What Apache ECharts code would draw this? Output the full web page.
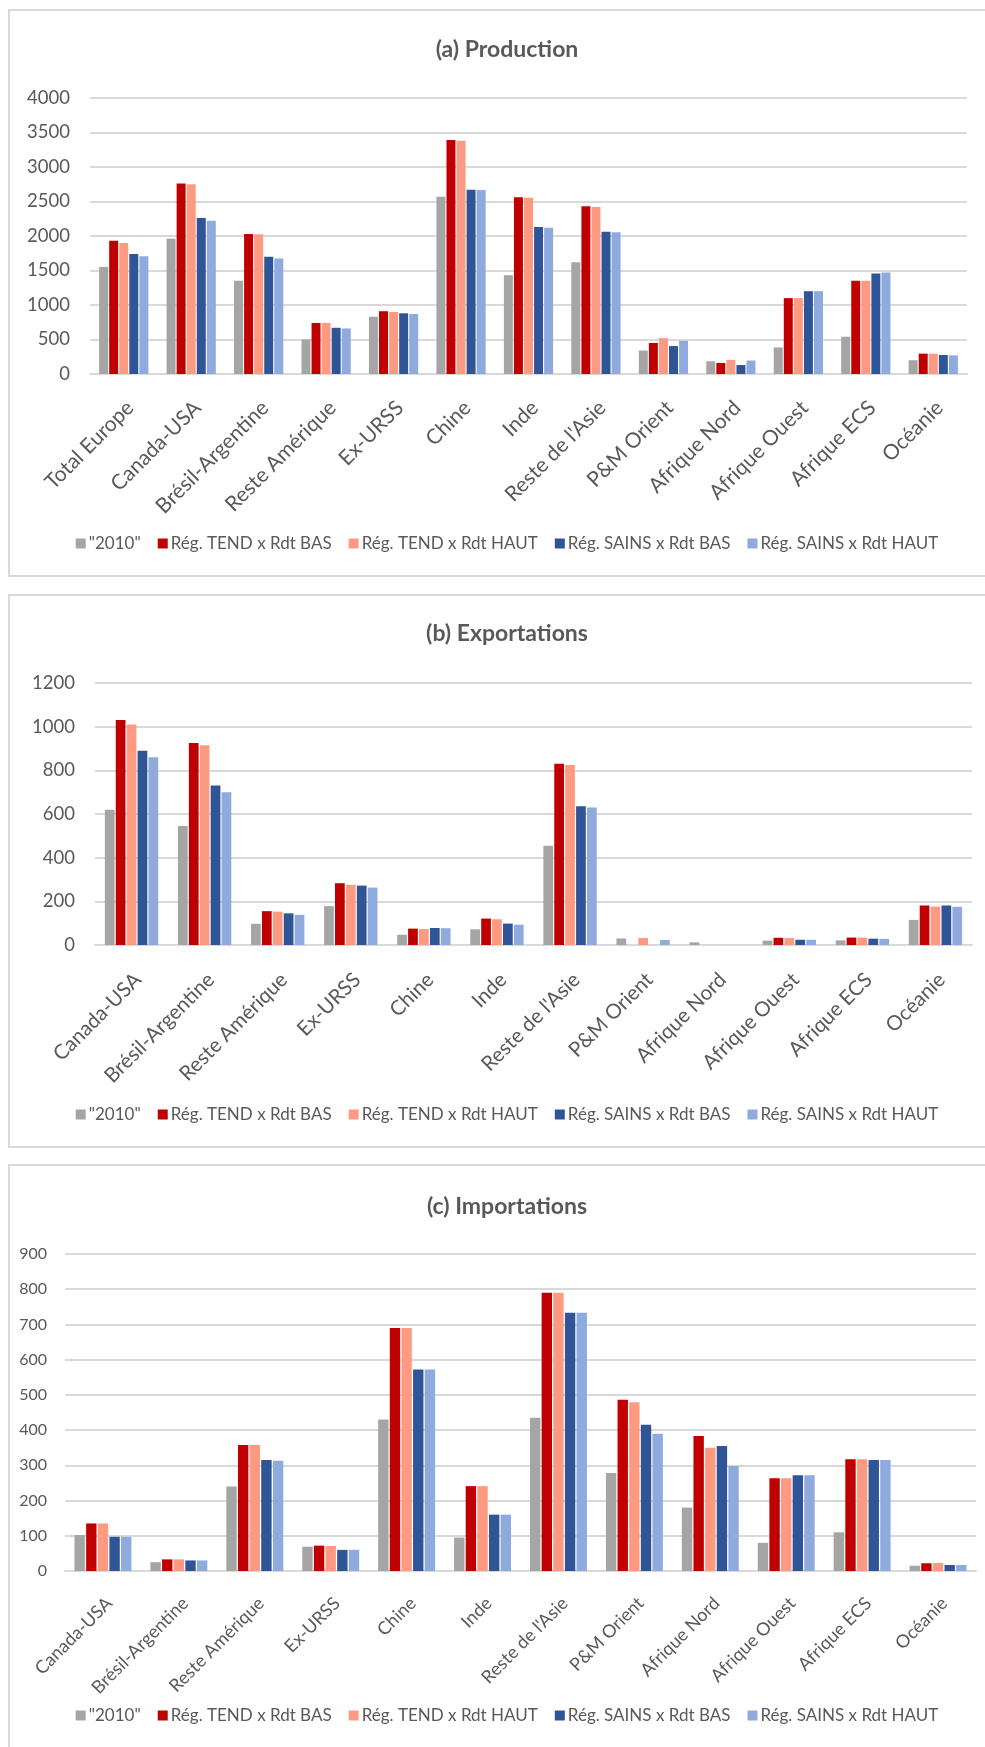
<!DOCTYPE html>
<html>
<head>
<meta charset="utf-8">
<script src="https://cdn.jsdelivr.net/npm/echarts@6/dist/echarts.min.js"></script>
<style>
  html, body { margin: 0; padding: 0; background: #fff; width: 985px; height: 1747px; overflow: hidden; }
  .panel { position: absolute; left: 8px; width: 994px; border: 2px solid #d9d9d9; background: #fff; }
</style>
</head>
<body>
<div class="panel" id="pa" style="top:9px;height:564px"></div>
<div class="panel" id="pb" style="top:594px;height:550px"></div>
<div class="panel" id="pc" style="top:1164px;height:600px"></div>
<script>
var seriesNames = ['"2010"', 'Rég. TEND x Rdt BAS', 'Rég. TEND x Rdt HAUT', 'Rég. SAINS x Rdt BAS', 'Rég. SAINS x Rdt HAUT'];
var colors = ['#a5a5a5', '#c00000', '#ff9a82', '#2f5597', '#8faadc'];

// (a) Production
var prodCats = ['Total Europe', 'Canada-USA', 'Brésil-Argentine', 'Reste Amérique', 'Ex-URSS', 'Chine', 'Inde', "Reste de l'Asie", 'P&M Orient', 'Afrique Nord', 'Afrique Ouest', 'Afrique ECS', 'Océanie'];
var prod2010 = [1550, 1960, 1350, 500, 830, 2570, 1430, 1620, 340, 185, 385, 540, 200];
var prodTendBas = [1930, 2760, 2030, 740, 910, 3390, 2560, 2430, 450, 160, 1100, 1350, 295];
var prodTendHaut = [1900, 2750, 2025, 740, 900, 3380, 2555, 2420, 520, 205, 1100, 1350, 295];
var prodSainsBas = [1740, 2260, 1700, 670, 880, 2670, 2130, 2060, 405, 130, 1200, 1455, 275];
var prodSainsHaut = [1705, 2220, 1675, 660, 870, 2665, 2120, 2055, 480, 195, 1200, 1470, 270];

// (b) Exportations
var expCats = ['Canada-USA', 'Brésil-Argentine', 'Reste Amérique', 'Ex-URSS', 'Chine', 'Inde', "Reste de l'Asie", 'P&M Orient', 'Afrique Nord', 'Afrique Ouest', 'Afrique ECS', 'Océanie'];
var exp2010 = [620, 545, 97, 178, 47, 72, 455, 30, 12, 20, 21, 115];
var expTendBas = [1030, 925, 155, 283, 75, 121, 830, 0, 0, 33, 34, 181];
var expTendHaut = [1010, 915, 153, 276, 73, 118, 825, 32, 0, 32, 34, 176];
var expSainsBas = [890, 730, 145, 272, 78, 98, 635, 0, 0, 24, 29, 181];
var expSainsHaut = [860, 700, 138, 263, 77, 93, 630, 23, 0, 24, 28, 175];

// (c) Importations
var impCats = ['Canada-USA', 'Brésil-Argentine', 'Reste Amérique', 'Ex-URSS', 'Chine', 'Inde', "Reste de l'Asie", 'P&M Orient', 'Afrique Nord', 'Afrique Ouest', 'Afrique ECS', 'Océanie'];
var imp2010 = [102, 25, 240, 69, 430, 95, 435, 278, 180, 80, 110, 15];
var impTendBas = [135, 33, 358, 72, 690, 241, 790, 486, 383, 263, 317, 22];
var impTendHaut = [135, 33, 358, 71, 690, 241, 790, 479, 350, 263, 317, 23];
var impSainsBas = [97, 30, 315, 60, 572, 160, 733, 415, 355, 272, 315, 17];
var impSainsHaut = [97, 30, 313, 60, 572, 160, 733, 390, 298, 272, 315, 17];

var FONT = 'Lato, "Open Sans", sans-serif';

function buildOption(cfg) {
  var dataSets = cfg.data;
  return {
    animation: false,
    color: colors,
    title: {
      text: cfg.title, left: 'center', top: cfg.titleTop,
      textStyle: { fontFamily: FONT, fontSize: 23, fontWeight: 'bold', color: '#595959' }
    },
    legend: {
      data: seriesNames, left: 'center', top: cfg.legendTop,
      icon: 'rect', itemWidth: 10, itemHeight: 10, itemGap: 17,
      textStyle: { fontFamily: FONT, fontSize: 17, color: '#595959', padding: [0, 0, 0, -2] }
    },
    grid: { left: cfg.grid[0], top: cfg.grid[1], right: cfg.grid[2], height: cfg.grid[3] },
    xAxis: {
      type: 'category', data: cfg.cats,
      axisLine: { lineStyle: { color: '#d9d9d9', width: 2 } },
      axisTick: { show: false },
      axisLabel: {
        rotate: 45, interval: 0, margin: cfg.labelMargin,
        verticalAlign: 'top', lineHeight: 18,
        fontFamily: FONT, fontSize: cfg.xFont, color: '#595959'
      }
    },
    yAxis: {
      type: 'value', min: 0, max: cfg.max, interval: cfg.interval,
      axisLine: { show: false }, axisTick: { show: false },
      splitLine: { lineStyle: { color: '#d9d9d9', width: 2 } },
      axisLabel: {
        fontFamily: FONT, fontSize: cfg.yFont, color: '#595959', margin: cfg.yMargin,
        formatter: function (v) { return String(v); }
      }
    },
    series: seriesNames.map(function (n, i) {
      return {
        name: n, type: 'bar', data: dataSets[i],
        barGap: '12%', barCategoryGap: cfg.catGap
      };
    })
  };
}

var chartA = echarts.init(document.getElementById('pa'));
chartA.setOption(buildOption({
  title: '(a) Production', titleTop: 22, legendTop: 519,
  grid: [80, 87, 37, 276], cats: prodCats, max: 4000, interval: 500,
  data: [prod2010, prodTendBas, prodTendHaut, prodSainsBas, prodSainsHaut],
  xFont: 21, yFont: 18.5, labelMargin: 24, yMargin: 20, catGap: '27%'
}));

var chartB = echarts.init(document.getElementById('pb'));
chartB.setOption(buildOption({
  title: '(b) Exportations', titleTop: 21, legendTop: 505,
  grid: [85, 87, 32, 262], cats: expCats, max: 1200, interval: 200,
  data: [exp2010, expTendBas, expTendHaut, expSainsBas, expSainsHaut],
  xFont: 20.5, yFont: 18.5, labelMargin: 25, yMargin: 20, catGap: '27%'
}));

var chartC = echarts.init(document.getElementById('pc'));
chartC.setOption(buildOption({
  title: '(c) Importations', titleTop: 24, legendTop: 536,
  grid: [55, 88, 28, 317], cats: impCats, max: 900, interval: 100,
  data: [imp2010, impTendBas, impTendHaut, impSainsBas, impSainsHaut],
  xFont: 18, yFont: 16, labelMargin: 23, yMargin: 18, catGap: '25%'
}));
</script>
</body>
</html>
